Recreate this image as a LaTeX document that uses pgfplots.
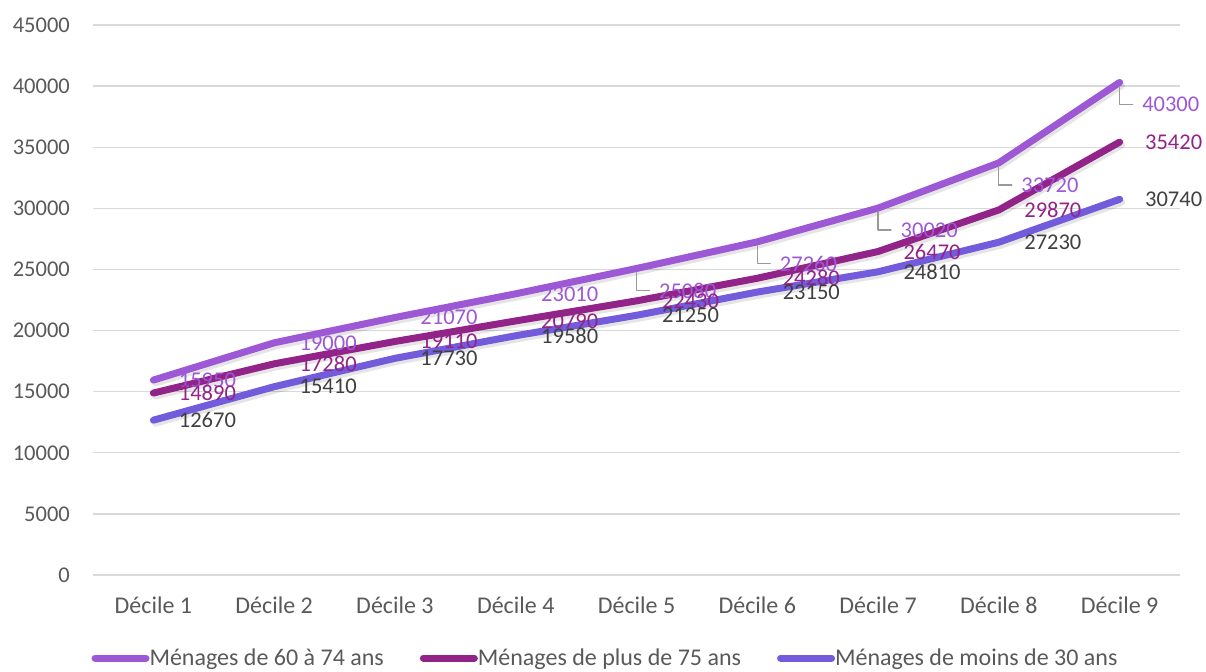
\documentclass[border=0pt]{standalone}
\usepackage{fontspec}
\setmainfont{Carlito}
\usepackage{pgfplots}
\pgfplotsset{compat=1.18}
\definecolor{cA}{RGB}{157,88,214}
\definecolor{cB}{RGB}{146,35,137}
\definecolor{cC}{RGB}{114,92,219}
\definecolor{txt}{RGB}{89,89,89}
\definecolor{lblC}{RGB}{64,64,64}
\definecolor{gridc}{RGB}{217,217,217}
\newcommand\cf{\fontsize{22.5bp}{27bp}\selectfont}
\newcommand\lf{\fontsize{24bp}{29bp}\selectfont}
\pgfdeclareplotmark{leader}{%
  \pgfpathmoveto{\pgfqpoint{0bp}{-4bp}}%
  \pgfpathlineto{\pgfqpoint{0bp}{-22bp}}%
  \pgfpathlineto{\pgfqpoint{13bp}{-22bp}}%
  \pgfusepathqstroke}
\begin{document}
\begin{tikzpicture}
\begin{axis}[
  scale only axis, width=1087bp, height=550bp,
  xmin=0.5, xmax=9.5, ymin=0, ymax=45000,
  xtick={1,...,9},
  xticklabels={Décile 1,Décile 2,Décile 3,Décile 4,Décile 5,Décile 6,Décile 7,Décile 8,Décile 9},
  ytick={0,5000,...,45000},
  scaled y ticks=false,
  /pgf/number format/fixed,
  /pgf/number format/precision=0,
  /pgf/number format/set thousands separator={},
  /pgf/number format/assume math mode=true,
  major tick length=0pt,
  ymajorgrids, grid style={gridc, line width=1.3bp},
  axis x line*=bottom, axis y line*=left,
  x axis line style={gridc, line width=1.3bp},
  y axis line style={draw=none},
  ticklabel style={text=txt, inner sep=0pt},
  yticklabel style={font=\cf, anchor=east, xshift=-23bp},
  xticklabel style={font=\lf, anchor=north, yshift=-22bp},
  clip=false,
  legend columns=3,
  legend style={draw=none, fill=none, font=\lf, text=txt,
    at={(0.5,0)}, anchor=center, yshift=-83bp, xshift=-32bp,
    /tikz/every even column/.style={column sep=36bp},
    nodes={inner sep=0pt}},
  legend image code/.code={\draw[line width=7bp, line cap=round] (3.5bp,0bp) -- (54.5bp,0bp);},
  every axis plot/.append style={line width=7bp, line cap=round, line join=round},
]
% shadows
\addplot[black, opacity=0.1, mark=none, forget plot, shift={(2bp,-3bp)}] coordinates {(1,15950)(2,19000)(3,21070)(4,23010)(5,25080)(6,27260)(7,30020)(8,33720)(9,40300)};
\addplot[black, opacity=0.1, mark=none, forget plot, shift={(2bp,-3bp)}] coordinates {(1,14890)(2,17280)(3,19110)(4,20790)(5,22430)(6,24280)(7,26470)(8,29870)(9,35420)};
\addplot[black, opacity=0.1, mark=none, forget plot, shift={(2bp,-3bp)}] coordinates {(1,12670)(2,15410)(3,17730)(4,19580)(5,21250)(6,23150)(7,24810)(8,27230)(9,30740)};
% lines
\addplot[cA, mark=none] coordinates {(1,15950)(2,19000)(3,21070)(4,23010)(5,25080)(6,27260)(7,30020)(8,33720)(9,40300)};
\addlegendentry{Ménages de 60 à 74 ans}
\addplot[cB, mark=none] coordinates {(1,14890)(2,17280)(3,19110)(4,20790)(5,22430)(6,24280)(7,26470)(8,29870)(9,35420)};
\addlegendentry{Ménages de plus de 75 ans}
\addplot[cC, mark=none] coordinates {(1,12670)(2,15410)(3,17730)(4,19580)(5,21250)(6,23150)(7,24810)(8,27230)(9,30740)};
\addlegendentry{Ménages de moins de 30 ans}
% labels
\addplot[draw=none, forget plot, nodes near coords, point meta=explicit symbolic,
  every node near coord/.style={font=\cf, text=cA, anchor=west, inner sep=0pt, xshift=22bp}]
  coordinates {(1,15950)[15950](2,19000)[19000](3,21070)[21070](4,23010)[23010]};
\addplot[draw=none, forget plot, only marks, mark=leader, mark options={draw=gray!80, line width=1.3bp},
  nodes near coords, point meta=explicit symbolic,
  every node near coord/.style={font=\cf, text=cA, anchor=west, inner sep=0pt, xshift=22bp, yshift=-22bp}]
  coordinates {(5,25080)[25080](6,27260)[27260](7,30020)[30020](8,33720)[33720](9,40300)[40300]};
\addplot[draw=none, forget plot, nodes near coords, point meta=explicit symbolic,
  every node near coord/.style={font=\cf, text=cB, anchor=west, inner sep=0pt, xshift=22bp}]
  coordinates {(1,14890)[14890](2,17280)[17280](3,19110)[19110](4,20790)[20790](5,22430)[22430](6,24280)[24280](7,26470)[26470](8,29870)[29870](9,35420)[35420]};
\addplot[draw=none, forget plot, nodes near coords, point meta=explicit symbolic,
  every node near coord/.style={font=\cf, text=lblC, anchor=west, inner sep=0pt, xshift=22bp}]
  coordinates {(1,12670)[12670](2,15410)[15410](3,17730)[17730](4,19580)[19580](5,21250)[21250](6,23150)[23150](7,24810)[24810](8,27230)[27230](9,30740)[30740]};
\coordinate (bl) at (rel axis cs:0,0);
\coordinate (tr) at (rel axis cs:1,1);
\end{axis}
\pgfresetboundingbox
\path[use as bounding box] ([shift={(-93bp,-96bp)}]bl) rectangle ([shift={(26bp,25bp)}]tr);
\end{tikzpicture}
\end{document}
